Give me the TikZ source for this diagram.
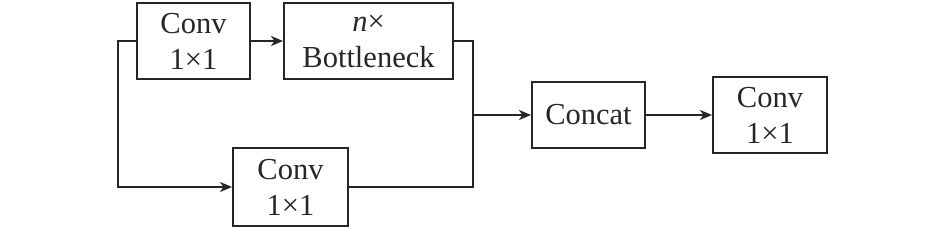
\documentclass[tikz,border=0pt]{standalone}
\usepackage{fontspec}
\setmainfont{Liberation Serif}
\usetikzlibrary{arrows.meta}
\begin{document}
\begin{tikzpicture}[x=1pt,y=-1pt,
  blk/.style={draw=black!85,line width=2pt,inner sep=0pt,align=center,
    font=\fontsize{30.5}{36}\selectfont,text=black!85},
  wire/.style={draw=black!85,line width=2pt},
  arr/.style={wire,-{Stealth[length=12pt,width=10pt,inset=3.5pt]}}]
\useasboundingbox (0,0) rectangle (945,229);
\node[blk,minimum width=113pt,minimum height=76pt] (c1) at (193.5,41) {Conv\\1×1};
\node[blk,minimum width=169pt,minimum height=76pt] (bn) at (368.5,41) {\textit{n}×\\Bottleneck};
\node[blk,minimum width=115pt,minimum height=78pt] (c2) at (290.5,187) {Conv\\1×1};
\node[blk,minimum width=113pt,minimum height=66pt] (cat) at (588.5,115) {Concat};
\node[blk,minimum width=114pt,minimum height=76pt] (c3) at (770,115) {Conv\\1×1};
\coordinate (lt) at (118,41);
\coordinate (jt) at (473,41);
\coordinate (jb) at (473,187);
\coordinate (jm) at (473,115);
\draw[arr] (c1.west) -- (lt) |- (c2.west);
\draw[arr] (c1.east) -- (bn.west);
\draw[wire] (bn.east) -- (jt) -- (jb) -- (c2.east);
\draw[arr] (jm) -- (cat.west);
\draw[arr] (cat.east) -- (c3.west);
\end{tikzpicture}
\end{document}
